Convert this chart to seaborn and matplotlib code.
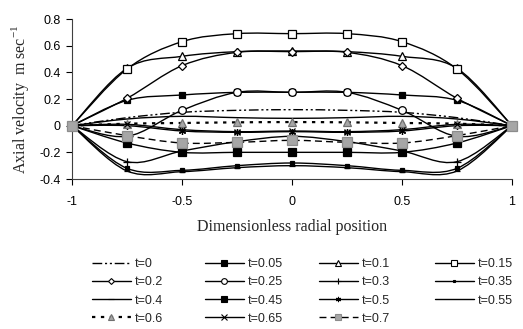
import numpy as np
import pandas as pd
import seaborn as sns
import matplotlib.pyplot as plt
from matplotlib.path import Path
from matplotlib.patches import PathPatch
from matplotlib.lines import Line2D

# dimensionless radial position of the measuring points
r_pos = [-1, -0.75, -0.5, -0.25, 0, 0.25, 0.5, 0.75, 1]
x_ticks = [-1, -0.5, 0, 0.5, 1]
x_ticklabels = ['-1', '-0.5', '0', '0.5', '1']
y_ticks = [-0.4, -0.2, 0, 0.2, 0.4, 0.6, 0.8]
y_ticklabels = ['-0.4', '-0.2', '0', '0.2', '0.4', '0.6', '0.8']

# axial velocity (m/s), one list per time step
v_t000 = [0, 0.06, 0.10, 0.115, 0.12, 0.115, 0.10, 0.06, 0]
v_t005 = [0, 0.19, 0.23, 0.25, 0.25, 0.25, 0.23, 0.19, 0]
v_t010 = [0, 0.43, 0.52, 0.555, 0.56, 0.555, 0.52, 0.43, 0]
v_t015 = [0, 0.425, 0.63, 0.69, 0.69, 0.69, 0.63, 0.425, 0]
v_t020 = [0, 0.205, 0.45, 0.55, 0.555, 0.55, 0.45, 0.205, 0]
v_t025 = [0, -0.08, 0.115, 0.25, 0.25, 0.25, 0.115, -0.08, 0]
v_t030 = [0, -0.27, -0.19, -0.12, -0.08, -0.12, -0.19, -0.27, 0]
v_t035 = [0, -0.32, -0.335, -0.30, -0.28, -0.30, -0.335, -0.32, 0]
v_t040 = [0, -0.34, -0.345, -0.315, -0.30, -0.315, -0.345, -0.34, 0]
v_t045 = [0, -0.13, -0.20, -0.20, -0.20, -0.20, -0.20, -0.13, 0]
v_t050 = [0, 0.0, -0.04, -0.05, -0.045, -0.05, -0.04, 0.0, 0]
v_t055 = [0, 0.05, 0.07, 0.06, 0.055, 0.06, 0.07, 0.05, 0]
v_t060 = [0, 0.015, 0.02, 0.025, 0.027, 0.025, 0.02, 0.015, 0]
v_t065 = [0, 0.01, -0.03, -0.045, -0.04, -0.045, -0.03, 0.01, 0]
v_t070 = [0, -0.075, -0.13, -0.125, -0.11, -0.125, -0.13, -0.075, 0]

GRAY = '#a6a6a6'
DASHDOTDOT = (0, (7, 2, 1.5, 2, 1.5, 2))

# label, values, line/marker style
series = [
    ('t=0', v_t000, dict(ls=DASHDOTDOT, marker='None')),
    ('t=0.05', v_t005, dict(ls='-', marker='s', ms=5, mfc='k', mec='k')),
    ('t=0.1', v_t010, dict(ls='-', marker='^', ms=5.5, mfc='white', mec='k')),
    ('t=0.15', v_t015, dict(ls='-', marker='s', ms=5.5, mfc='white', mec='k')),
    ('t=0.2', v_t020, dict(ls='-', marker='D', ms=4, mfc='white', mec='k')),
    ('t=0.25', v_t025, dict(ls='-', marker='o', ms=5.5, mfc='white', mec='k')),
    ('t=0.3', v_t030, dict(ls='-', marker='+', ms=6, mec='k')),
    ('t=0.35', v_t035, dict(ls='-', marker='s', ms=2.5, mfc='k', mec='k')),
    ('t=0.4', v_t040, dict(ls='-', marker='_', ms=5, mec='k')),
    ('t=0.45', v_t045, dict(ls='-', marker='s', ms=6, mfc='k', mec='k')),
    ('t=0.5', v_t050, dict(ls='-', marker=(6, 2, 0), ms=5, mec='k')),
    ('t=0.55', v_t055, dict(ls='-', marker='None')),
    ('t=0.6', v_t060, dict(ls=(0, (1.5, 2.5)), lw=1.6, marker='^', ms=6, mfc=GRAY, mec='#707070')),
    ('t=0.65', v_t065, dict(ls='-', marker='x', ms=5, mec='k')),
    ('t=0.7', v_t070, dict(ls=(0, (5, 3)), marker='s', ms=6.5, mfc=GRAY, mec='#8c8c8c')),
]


def smooth_path(x, y):
    # Excel-style smoothed line: Catmull-Rom segments as cubic Bezier curves
    pts = np.column_stack([x, y]).astype(float)
    n = len(pts)
    verts = [pts[0]]
    codes = [Path.MOVETO]
    for i in range(n - 1):
        p0 = pts[i - 1] if i > 0 else pts[i]
        p1 = pts[i]
        p2 = pts[i + 1]
        p3 = pts[i + 2] if i + 2 < n else pts[i + 1]
        verts += [p1 + (p2 - p0) / 6, p2 - (p3 - p1) / 6, p2]
        codes += [Path.CURVE4] * 3
    return Path(verts, codes)


sns.set_style('ticks')
plt.rcParams['font.family'] = ['Liberation Sans', 'DejaVu Sans']
plt.rcParams['mathtext.fontset'] = 'custom'
plt.rcParams['mathtext.rm'] = 'Liberation Serif'

fig = plt.figure(figsize=(5.23, 3.29), dpi=100)
ax = fig.add_axes([72 / 523, 1 - 179 / 329, 440 / 523, 160 / 329])

handles = []
for i, (label, vals, st) in enumerate(series):
    st = dict(st)
    lw = st.pop('lw', 1.0)
    ls = st.pop('ls')
    z = 3 + i
    ax.add_patch(PathPatch(smooth_path(r_pos, vals), fill=False, ec='k',
                           lw=lw, ls=ls, zorder=z, clip_on=False))
    if st.get('marker') not in (None, 'None'):
        df = pd.DataFrame({'r': r_pos, 'v': vals})
        sns.lineplot(data=df, x='r', y='v', ax=ax, linestyle='', color='k',
                     mew=0.9, zorder=z + 0.5, clip_on=False, sort=False, **st)
    # legend markers are drawn a bit smaller, as in the original legend
    leg_st = dict(st)
    if 'ms' in leg_st:
        leg_st['ms'] = leg_st['ms'] * 0.75
    handles.append(Line2D([], [], color='k', lw=lw, ls=ls, mew=0.8, **leg_st))

ax.set_xlim(-1, 1)
ax.set_ylim(-0.4, 0.8)
ax.set_xticks(x_ticks)
ax.set_xticklabels(x_ticklabels)
ax.set_yticks(y_ticks)
ax.set_yticklabels(y_ticklabels)
ax.tick_params(axis='both', direction='out', length=4, width=0.8,
               labelsize=9, colors='k', pad=4)
ax.tick_params(axis='x', pad=8)
sns.despine(ax=ax)
for sp in ('left', 'bottom'):
    ax.spines[sp].set_color('#404040')
    ax.spines[sp].set_linewidth(0.8)

ax.set_xlabel('Dimensionless radial position', family='Liberation Serif',
              fontsize=11.5, labelpad=8)
ax.set_ylabel(r'Axial velocity  m sec$^{-1}$', family='Liberation Serif',
              fontsize=11.5, labelpad=6)

# legend: four columns laid out like the Excel legend
labels = [s[0] for s in series]
col_x = [92, 205, 319, 435]
for c in range(4):
    idx = list(range(c, len(series), 4))
    fig.legend([handles[k] for k in idx], [labels[k] for k in idx],
               loc='upper left', bbox_to_anchor=(col_x[c] / 523, 1 - 258 / 329),
               frameon=False, fontsize=9, handlelength=3.1, handletextpad=0.3,
               borderpad=0, borderaxespad=0, labelspacing=0.5, numpoints=1)

fig.savefig('out.png', dpi=100)
